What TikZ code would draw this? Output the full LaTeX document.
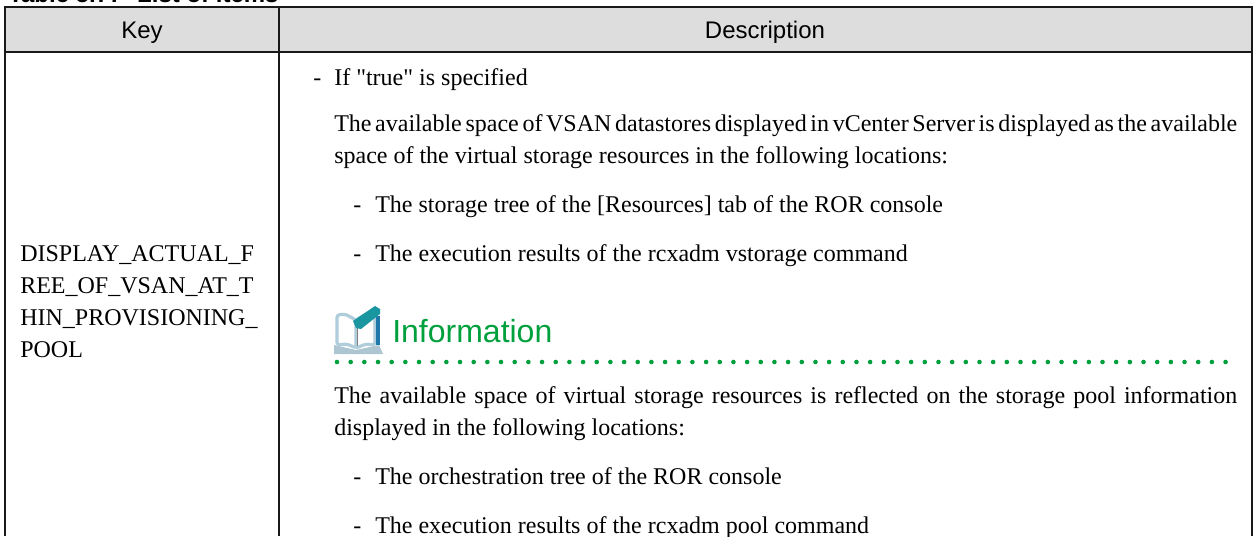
\documentclass[tikz,border=0pt]{standalone}
\usepackage{fontspec}
\newfontfamily\bodyf{Liberation Serif}
\newfontfamily\hd{Liberation Sans}
\newcommand{\fitline}[2]{\hbox to #1{\spaceskip=0pt plus 1fil\relax #2}}
\tikzset{
  px/.style={x=0.75pt,y=-0.75pt},
  rule/.style={line width=1.5pt,black!90},
  body/.style={anchor=base west,inner sep=0pt,font=\bodyf\fontsize{18pt}{22pt}\selectfont,text=black},
  head/.style={anchor=base,inner sep=0pt,font=\hd\fontsize{18pt}{22pt}\selectfont,text=black},
}
\definecolor{hdrgray}{RGB}{221,221,221}
\definecolor{infogreen}{RGB}{0,160,60}
\definecolor{bookblue}{RGB}{175,205,218}
\definecolor{bookdark}{RGB}{120,160,180}
\definecolor{penteal}{RGB}{25,150,160}
\definecolor{spine}{RGB}{30,120,170}
\begin{document}
\begin{tikzpicture}[px]
\useasboundingbox (0,0) rectangle (1254,536);
\fill[hdrgray] (5,7) rectangle (1252,52);
\draw[rule] (5,536) -- (5,7) -- (1252,7) -- (1252,536);
\draw[rule] (5,52) -- (1252,52);
\draw[rule] (279,7) -- (279,536);
\node[head,anchor=base west] (cap) at (8,2.5) {\bfseries Table 5.77\hspace{11pt}List of items};
\node[head] (k) at (142,38) {Key};
\node[head] (d) at (765,38) {Description};
\node[body] (a0) at (313,85) {-};
\node[body] (a1) at (334,85) {If "true" is specified};
\node[body] (a2) at (334,131) {\fitline{677.25pt}{The available space of VSAN datastores displayed in vCenter Server is displayed as the available}};
\node[body] (a3) at (334,163) {space of the virtual storage resources in the following locations:};
\node[body] (a4d) at (353,212) {-};
\node[body] (a4) at (375,212) {The storage tree of the [Resources] tab of the ROR console};
\node[body] (a5d) at (353,261) {-};
\node[body] (a5) at (375,261) {The execution results of the rcxadm vstorage command};
\node[body] (k1) at (20,261) {DISPLAY\_ACTUAL\_F};
\node[body] (k2) at (20,293) {REE\_OF\_VSAN\_AT\_T};
\node[body] (k3) at (20,325) {HIN\_PROVISIONING\_};
\node[body] (k4) at (20,357) {POOL};
% book icon
\fill[bookdark!60] (334,345) -- (356,350) -- (379,345) -- (383,354) -- (334,354) -- cycle;
\draw[bookblue,line width=2.4pt,rounded corners=2pt] (337,345) -- (337,315) -- (345,314) -- (356,320) -- (356,348) -- (347,344) -- cycle;
\draw[bookblue,line width=2.4pt,rounded corners=2pt] (356,320) -- (366,314) -- (375,314) -- (375,345) -- (366,344) -- (356,348);
\draw[gray,line width=.7pt] (357,322) -- (357,346);
\fill[spine] (376,316) rectangle (379.5,345);
\fill[penteal] (353,321) -- (375,306) -- (380,309) -- (380,314) -- (361,329) -- (356,328) -- cycle;
\node[anchor=base west,inner sep=0pt,font=\hd\fontsize{24pt}{28pt}\selectfont,text=infogreen] (inf) at (392,342) {Information};
\foreach \i in {0,...,65} \fill[infogreen] ({337+13.67*\i},362) circle (2.3);
\node[body] (b1) at (334,403) {\fitline{677.25pt}{The available space of virtual storage resources is reflected on the storage pool information}};
\node[body] (b2) at (334,435) {displayed in the following locations:};
\node[body] (b3d) at (353,484) {-};
\node[body] (b3) at (375,484) {The orchestration tree of the ROR console};
\node[body] (b4d) at (353,533) {-};
\node[body] (b4) at (375,533) {The execution results of the rcxadm pool command};
\end{tikzpicture}
\end{document}
